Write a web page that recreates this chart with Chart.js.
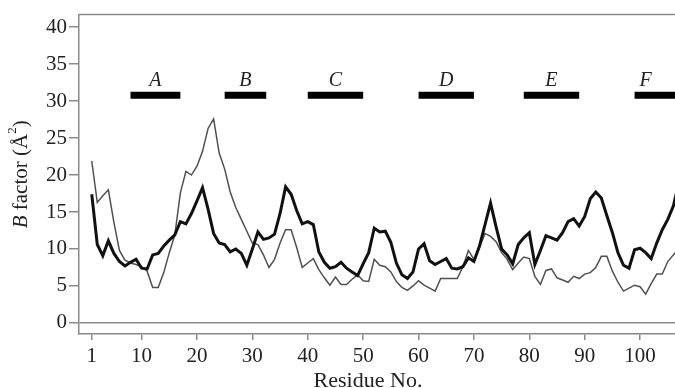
<!DOCTYPE html>
<html>
<head>
<meta charset="utf-8">
<script src="https://cdn.jsdelivr.net/npm/chart.js@4"></script>
<style>
  html, body { margin: 0; padding: 0; background: #fff; }
  #wrap { width: 675px; height: 388px; }
</style>
</head>
<body>
<div id="wrap"><canvas id="bChart"></canvas></div>
<script>
// B factor per residue (residue 1..107)
const thickB = [
  17.4, 10.6, 9.1, 11.1, 9.4, 8.3, 7.7, 8.2, 8.6, 7.4,
  7.3, 9.2, 9.4, 10.4, 11.2, 11.9, 13.7, 13.4, 14.8, 16.5,
  18.3, 15.4, 12.1, 10.8, 10.6, 9.6, 10.0, 9.4, 7.8, 10.0,
  12.3, 11.3, 11.5, 12.0, 14.8, 18.4, 17.4, 15.2, 13.4, 13.7,
  13.3, 9.6, 8.2, 7.4, 7.6, 8.2, 7.4, 6.9, 6.4, 8.0,
  9.5, 12.8, 12.3, 12.4, 10.9, 8.1, 6.5, 6.0, 6.9, 10.0,
  10.7, 8.4, 7.9, 8.3, 8.7, 7.4, 7.3, 7.6, 8.8, 8.3,
  10.4, 13.3, 16.2, 13.0, 10.0, 9.2, 8.0, 10.6, 11.5, 12.2,
  7.9, 9.8, 11.8, 11.5, 11.2, 12.2, 13.7, 14.1, 13.1, 14.4,
  16.8, 17.7, 16.9, 14.5, 12.2, 9.5, 7.8, 7.4, 9.9, 10.1,
  9.5, 8.7, 10.8, 12.6, 14.0, 15.8, 19.0
];
const thinB = [
  21.9, 16.3, 17.2, 18.0, 13.6, 9.8, 8.5, 8.1, 7.9, 7.6,
  7.0, 4.8, 4.8, 6.8, 9.5, 11.9, 17.6, 20.5, 20.0, 21.2,
  23.2, 26.3, 27.6, 23.0, 20.8, 17.7, 15.6, 14.0, 12.4, 10.8,
  10.6, 9.2, 7.5, 8.6, 10.8, 12.6, 12.6, 10.2, 7.5, 8.1,
  8.7, 7.2, 6.1, 5.1, 6.2, 5.2, 5.2, 5.9, 6.5, 5.7,
  5.6, 8.6, 7.8, 7.6, 6.9, 5.6, 4.8, 4.4, 5.0, 5.7,
  5.1, 4.7, 4.3, 6.0, 6.0, 6.0, 6.0, 7.6, 9.8, 8.6,
  10.2, 12.1, 11.7, 11.0, 9.5, 8.6, 7.2, 8.1, 8.9, 8.7,
  6.3, 5.2, 7.1, 7.3, 6.1, 5.8, 5.5, 6.3, 6.0, 6.6,
  6.8, 7.5, 9.0, 9.0, 7.0, 5.5, 4.3, 4.7, 5.1, 4.9,
  3.9, 5.3, 6.6, 6.6, 8.3, 9.2, 10.0
];
const xTicks = [1, 10, 20, 30, 40, 50, 60, 70, 80, 90, 100];
const yTicks = [0, 5, 10, 15, 20, 25, 30, 35, 40];

// helices
const helixNames = ['A', 'B', 'C', 'D', 'E', 'F'];
const helixStart = [8, 25, 40, 60, 79, 99];
const helixEnd = [17, 32.5, 50, 70, 89, 110];
const helixLevel = 30.8;

const serif = '"Liberation Serif", "DejaVu Serif", serif';
const grey = '#8a8a8a';

const helixSets = helixNames.map((name, i) => ({
  label: name,
  data: [{x: helixStart[i], y: helixLevel}, {x: helixEnd[i], y: helixLevel}],
  borderColor: '#000',
  borderWidth: 7,
  borderCapStyle: 'butt',
  pointRadius: 0
}));

// text that chart.js can't do on its own (italic B, superscript, helix names)
const extras = {
  id: 'extras',
  afterDraw(chart) {
    const c = chart.ctx;
    const area = chart.chartArea;
    const xs = chart.scales.x, ys = chart.scales.y;
    c.save();
    // top border
    c.strokeStyle = grey;
    c.lineWidth = 1.5;
    c.beginPath();
    c.moveTo(area.left, area.top);
    c.lineTo(area.right, area.top);
    c.stroke();

    c.fillStyle = '#222';
    // helix names
    c.font = 'italic 20px ' + serif;
    c.textAlign = 'center';
    c.textBaseline = 'alphabetic';
    helixNames.forEach((n, i) => {
      const mid = (helixStart[i] + Math.min(helixEnd[i], 107)) / 2;
      c.fillText(n, xs.getPixelForValue(i == 5 ? 101 : mid), ys.getPixelForValue(helixLevel) - 9);
    });

    // x title
    c.font = '22px ' + serif;
    c.textBaseline = 'middle';
    c.fillText('Residue No.', 368, 381);

    // y title
    c.translate(21, (area.top + area.bottom) / 2);
    c.rotate(-Math.PI / 2);
    const parts = [
      ['italic 21px ' + serif, 'B', 0],
      ['21px ' + serif, ' factor (Å', 0],
      ['13px ' + serif, '2', -8],
      ['21px ' + serif, ')', 0]
    ];
    let w = 0;
    parts.forEach(p => { c.font = p[0]; w += c.measureText(p[1]).width; });
    let x = -w / 2;
    c.textAlign = 'left';
    parts.forEach(p => {
      c.font = p[0];
      c.fillText(p[1], x, p[2]);
      x += c.measureText(p[1]).width;
    });
    c.restore();
  }
};

new Chart(document.getElementById('bChart').getContext('2d'), {
  type: 'line',
  data: {
    datasets: [
      {
        label: 'thick',
        data: thickB.map((v, i) => ({x: i + 1, y: v})),
        borderColor: '#111',
        borderWidth: 3,
        pointRadius: 0,
        tension: 0
      },
      {
        label: 'thin',
        data: thinB.map((v, i) => ({x: i + 1, y: v})),
        borderColor: '#505050',
        borderWidth: 1.5,
        pointRadius: 0,
        tension: 0
      }
    ].concat(helixSets)
  },
  options: {
    responsive: true,
    maintainAspectRatio: false,
    animation: false,
    layout: { padding: { top: 9, right: 0, left: 0, bottom: 0 } },
    plugins: { legend: { display: false }, tooltip: { enabled: false } },
    scales: {
      x: {
        type: 'linear',
        min: -1.3,
        max: 106.3,
        afterBuildTicks: axis => { axis.ticks = xTicks.map(v => ({value: v})); },
        afterFit: axis => { axis.height = 54; },
        border: { display: true, color: grey, width: 1.5 },
        grid: { drawOnChartArea: false, drawTicks: true, tickLength: 6, color: grey, lineWidth: 1.5 },
        ticks: { font: { family: serif, size: 21 }, color: '#222', padding: 4, maxRotation: 0, autoSkip: false }
      },
      y: {
        min: -1.5,
        max: 41.7,
        afterBuildTicks: axis => { axis.ticks = yTicks.map(v => ({value: v})); },
        afterFit: axis => { axis.width = 79; },
        border: { display: true, color: grey, width: 1.5 },
        grid: {
          drawOnChartArea: true,
          drawTicks: true,
          tickLength: 10,
          lineWidth: 1.5,
          color: ctx => (ctx.tick && ctx.tick.value === 0) ? grey : 'rgba(0,0,0,0)',
          tickColor: grey
        },
        ticks: { font: { family: serif, size: 21 }, color: '#222', padding: 2 }
      }
    }
  },
  plugins: [extras]
});
</script>
</body>
</html>
